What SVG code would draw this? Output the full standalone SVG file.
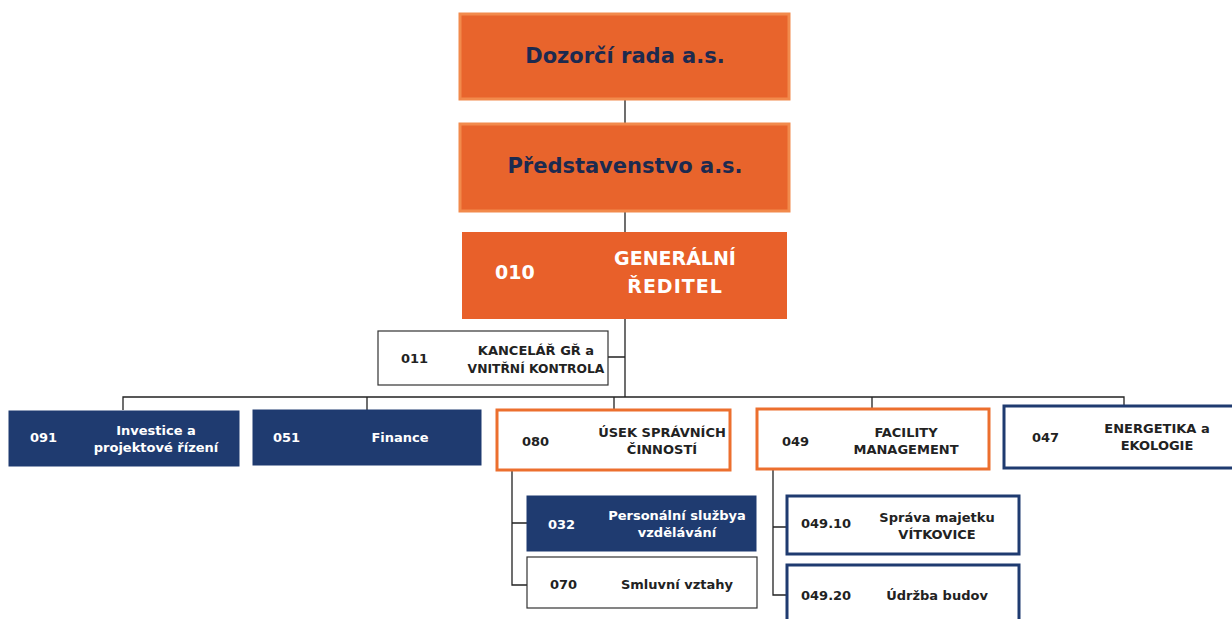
<svg xmlns="http://www.w3.org/2000/svg" width="1232" height="619" viewBox="0 0 1232 619">
<style>
.t{font-family:"DejaVu Sans","Verdana",sans-serif;font-weight:bold}
.top{fill:#e8642c;stroke:#f28a4c;stroke-width:3}
.navy{fill:#1f3b70;stroke:#1f3b70;stroke-width:1}
.wn{fill:#ffffff;stroke:#1f3b70;stroke-width:3}
.wo{fill:#ffffff;stroke:#ec6f2e;stroke-width:3}
.wk{fill:#ffffff;stroke:#333;stroke-width:1.2}
.big{font-size:21px;fill:#1c2a4f}
.s{font-size:13px}
.dk{fill:#222}
.wh{fill:#ffffff}
.c{stroke:#222;stroke-width:1.3;fill:none}
</style>
<rect width="1232" height="619" fill="#ffffff"/>
<g id="connectors">
<path class="c" d="M625 100V123M625 212V232M625 319V397M608 357H625M123 410V397H1124V406M367 397V410M614 397V409M872 397V408M512 471V585H527M512 523H527M773 470V595H786M773 527H786"/>
</g>
<g id="dozorci">
<rect class="top" x="460" y="14" width="329" height="85"/>
<text class="t big" x="625" y="57" text-anchor="middle" dominant-baseline="middle">Dozorčí rada a.s.</text>
</g>
<g id="predstavenstvo">
<rect class="top" x="460" y="124" width="329" height="87"/>
<text class="t big" x="625" y="167" text-anchor="middle" dominant-baseline="middle">Představenstvo a.s.</text>
</g>
<g id="gr">
<rect x="462" y="232" width="325" height="87" fill="#e8602a"/>
<text class="t wh" x="495" y="279" font-size="19">010</text>
<text class="t wh" x="675" y="265" font-size="19" text-anchor="middle">GENERÁLNÍ</text>
<text class="t wh" x="675" y="293" font-size="19" text-anchor="middle" letter-spacing="1">ŘEDITEL</text>
</g>
<g id="n011">
<rect class="wk" x="378" y="331" width="230" height="54"/>
<text class="t s dk" x="401" y="363">011</text>
<text class="t s dk" x="536" y="355" text-anchor="middle">KANCELÁŘ GŘ a</text>
<text class="t dk" x="536" y="373" font-size="12.3" text-anchor="middle">VNITŘNÍ KONTROLA</text>
</g>
<g id="n091">
<rect class="navy" x="9" y="411" width="230" height="55"/>
<text class="t s wh" x="30" y="442">091</text>
<text class="t s wh" x="156" y="435" text-anchor="middle">Investice a</text>
<text class="t s wh" x="156" y="452" text-anchor="middle">projektové řízení</text>
</g>
<g id="n051">
<rect class="navy" x="253" y="410" width="228" height="55"/>
<text class="t s wh" x="273" y="442">051</text>
<text class="t s wh" x="400" y="442" text-anchor="middle">Finance</text>
</g>
<g id="n080">
<rect class="wo" x="497" y="410" width="233" height="60"/>
<text class="t s dk" x="522" y="446">080</text>
<text class="t s dk" x="662" y="437" text-anchor="middle">ÚSEK SPRÁVNÍCH</text>
<text class="t s dk" x="662" y="454" text-anchor="middle">ČINNOSTÍ</text>
</g>
<g id="n049">
<rect class="wo" x="757" y="409" width="232" height="60"/>
<text class="t s dk" x="782" y="446">049</text>
<text class="t s dk" x="906" y="437" text-anchor="middle">FACILITY</text>
<text class="t s dk" x="906" y="454" text-anchor="middle">MANAGEMENT</text>
</g>
<g id="n047">
<rect class="wn" x="1004" y="406" width="232" height="62"/>
<text class="t s dk" x="1032" y="442">047</text>
<text class="t s dk" x="1157" y="433" text-anchor="middle">ENERGETIKA a</text>
<text class="t s dk" x="1157" y="450" text-anchor="middle">EKOLOGIE</text>
</g>
<g id="n032">
<rect class="navy" x="527" y="496" width="229" height="55"/>
<text class="t s wh" x="548" y="529">032</text>
<text class="t s wh" x="677" y="520" text-anchor="middle">Personální službya</text>
<text class="t s wh" x="677" y="537" text-anchor="middle">vzdělávání</text>
</g>
<g id="n070">
<rect class="wk" x="527" y="557" width="230" height="51"/>
<text class="t s dk" x="550" y="589">070</text>
<text class="t s dk" x="677" y="589" text-anchor="middle">Smluvní vztahy</text>
</g>
<g id="n04910">
<rect class="wn" x="787" y="496" width="232" height="58"/>
<text class="t s dk" x="801" y="528">049.10</text>
<text class="t s dk" x="937" y="522" text-anchor="middle">Správa majetku</text>
<text class="t s dk" x="937" y="539" text-anchor="middle">VÍTKOVICE</text>
</g>
<g id="n04920">
<rect class="wn" x="787" y="565" width="232" height="62"/>
<text class="t s dk" x="801" y="600">049.20</text>
<text class="t s dk" x="937" y="600" text-anchor="middle">Údržba budov</text>
</g>
</svg>
